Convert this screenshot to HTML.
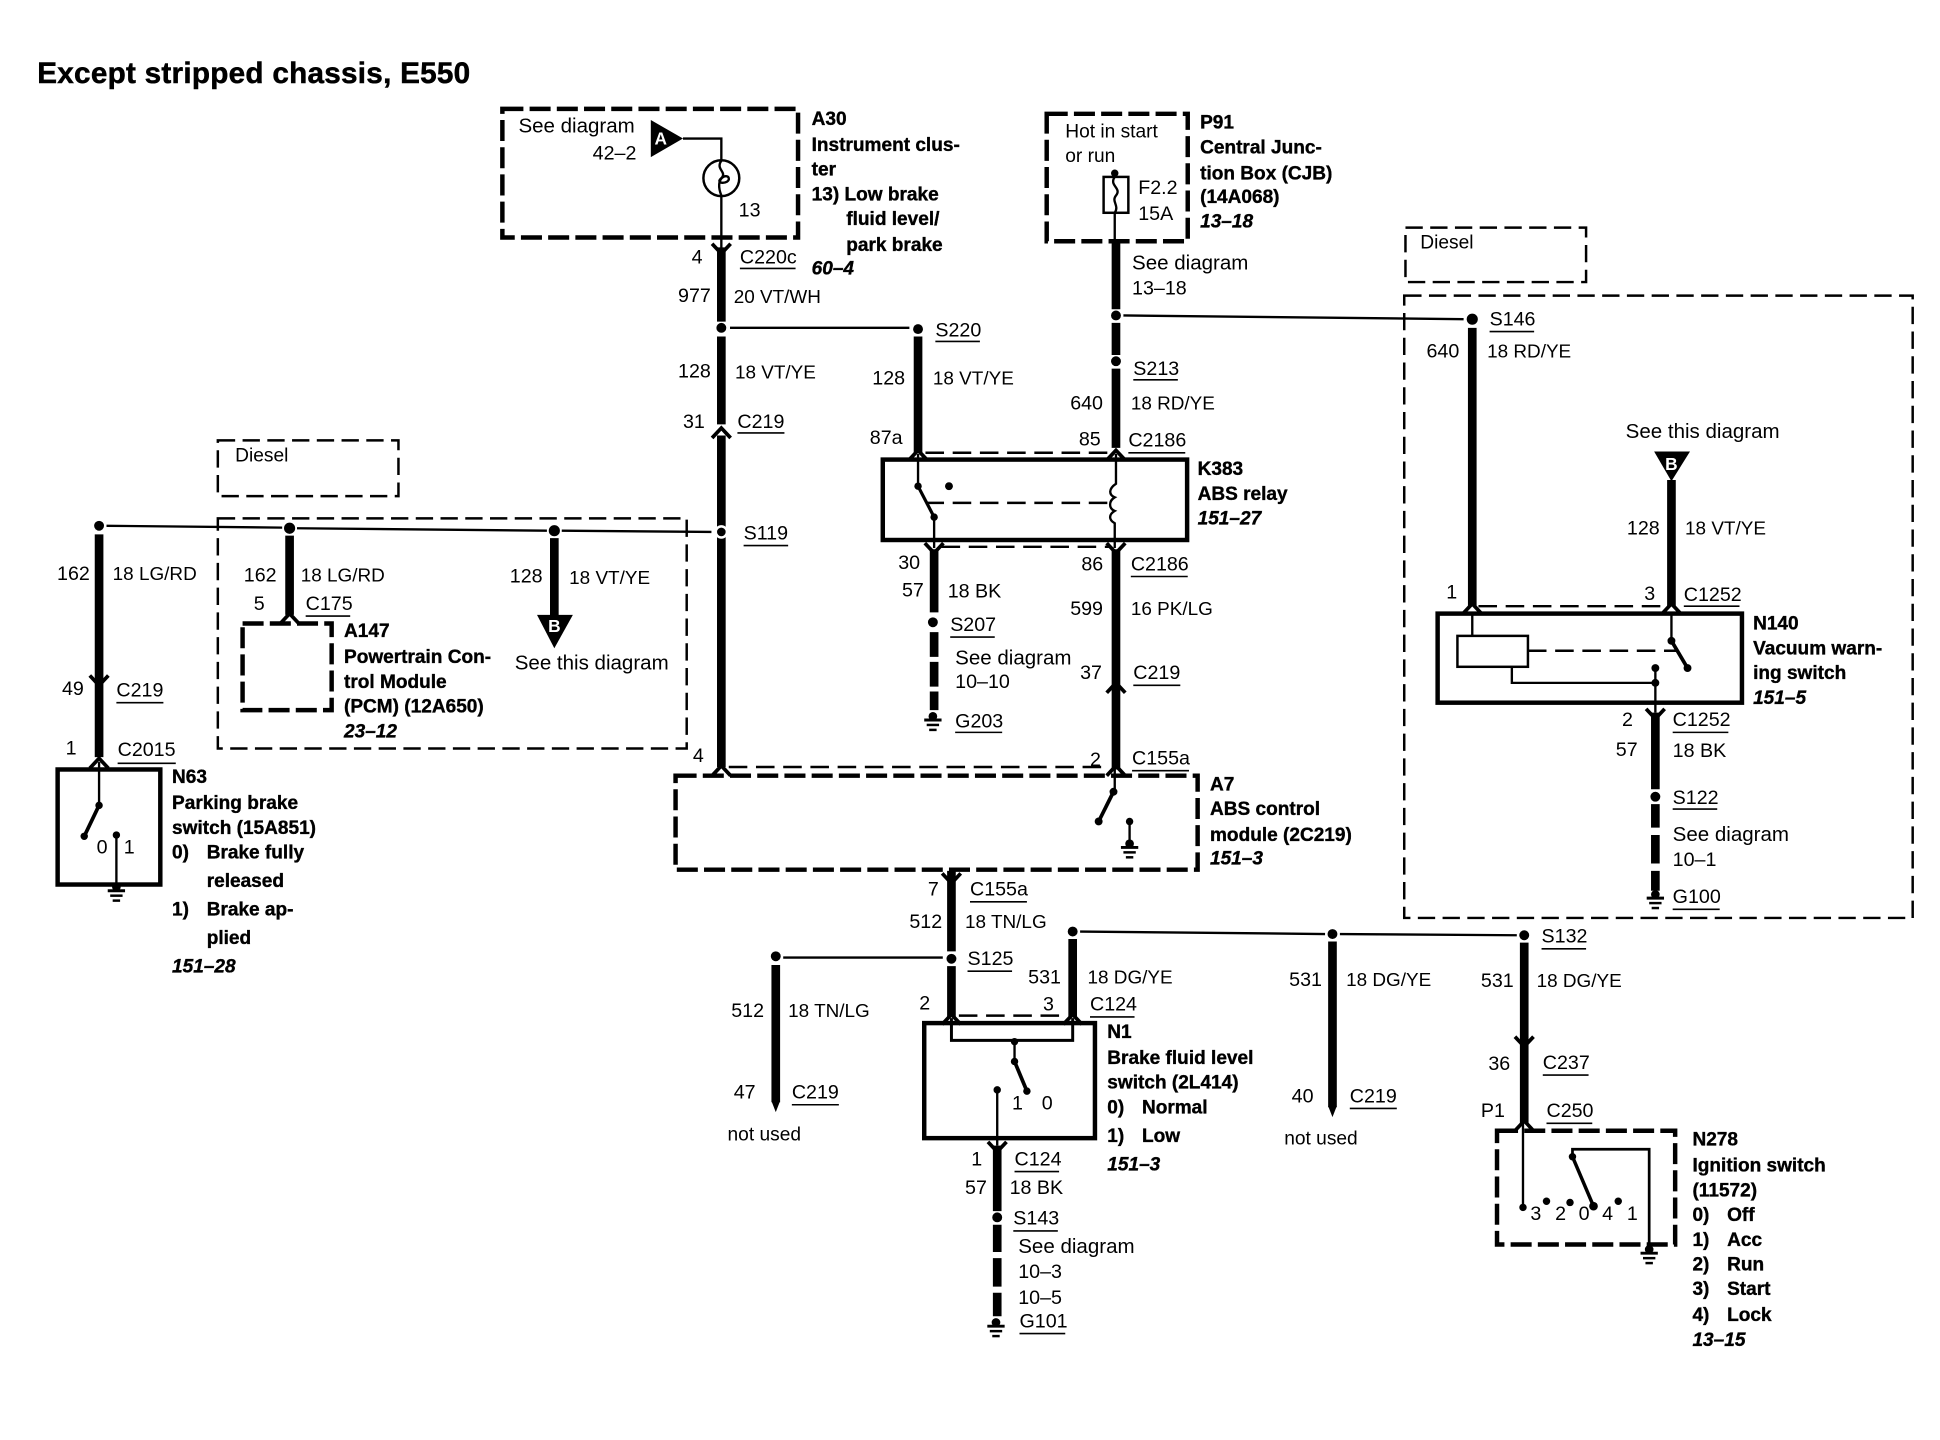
<!DOCTYPE html>
<html><head><meta charset="utf-8"><title>Except stripped chassis, E550</title>
<style>
html,body{margin:0;padding:0;background:#fff}
svg{display:block}
text{font-family:"Liberation Sans",sans-serif;font-size:15.9px;fill:#000}
text.g{font-size:15.3px}
text.s{font-size:16.6px}
.b{font-weight:700;font-size:15.4px;stroke:#000;stroke-width:.3}
.i{font-weight:700;font-style:italic;font-size:15.4px;stroke:#000;stroke-width:.3}
.w{fill:#fff;font-weight:700;font-size:14px;text-anchor:middle}
.thick{stroke:#000;stroke-width:7;fill:none}
.thin{stroke:#000;stroke-width:1.9;fill:none}
.box{stroke:#000;stroke-width:3.6;fill:none}
.dh{stroke:#000;stroke-width:3.6;fill:none;stroke-dasharray:17 5}
.dl{stroke:#000;stroke-width:2;fill:none;stroke-dasharray:14 6}
.ds{stroke:#000;stroke-width:2;fill:none;stroke-dasharray:15 7}
.u{stroke:#000;stroke-width:1.3}
</style></head><body>
<svg width="1940" height="1440" viewBox="0 0 1568 1164" xmlns="http://www.w3.org/2000/svg">
<defs>
<path id="cd" d="M-7.500 -5L0 3L7.500 -5" fill="none" stroke="#000" stroke-width="3"/>
<path id="cu" d="M-7.500 5L0 -3L7.500 5" fill="none" stroke="#000" stroke-width="3"/>
<g id="gnd"><circle cx="0" cy="0" r="3.500"/><path d="M-7 3H7" stroke="#000" stroke-width="2.400"/><path d="M-5 7H5" stroke="#000" stroke-width="2"/><path d="M-3 11H3" stroke="#000" stroke-width="2"/></g>
</defs>
<rect width="1568" height="1164" fill="#fff"/>

<text x="30" y="67" style="font-size:24px;font-weight:700;stroke:#000;stroke-width:.4" textLength="350">Except stripped chassis, E550</text>

<!-- A30 -->
<rect x="406" y="88" width="239" height="104" class="dh"/>
<text x="419" y="107" class="s">See diagram</text><text x="479" y="129">42–2</text>
<polygon points="526,97 526,127 552,112"/><text x="534" y="117" class="w">A</text>
<path d="M552 112H583V203" class="thin"/>
<circle cx="583" cy="144" r="14.500" fill="#fff" stroke="#000" stroke-width="2"/>
<path d="M583 130C578 137 588 139 583 144C577 149 590 149 589 144C588 140 577 143 583 158" class="thin"/>
<text x="597" y="175">13</text>
<text x="656" y="101" class="b">A30</text><text x="656" y="122" class="b">Instrument clus-</text><text x="656" y="142" class="b">ter</text><text x="656" y="162" class="b">13) Low brake</text><text x="684" y="182" class="b">fluid level/</text><text x="684" y="203" class="b">park brake</text><text x="656" y="222" class="i">60–4</text>

<use href="#cd" x="583" y="202"/>
<path d="M583 200V260M583 272V343M583 352V620" class="thick"/>
<text x="559" y="213">4</text><text x="598" y="213">C220c</text><path d="M598 217H643" class="u"/>
<text x="548" y="244">977</text><text x="593" y="245" class="g">20 VT/WH</text>
<circle cx="583" cy="265" r="4"/><path d="M590 265H735" class="thin"/><circle cx="742" cy="266" r="4"/>
<text x="756" y="272">S220</text><path d="M756 276H792" class="u"/>
<text x="548" y="305">128</text><text x="594" y="306" class="g">18 VT/YE</text>
<text x="552" y="346">31</text><text x="596" y="346">C219</text><path d="M596 350H634" class="u"/>
<use href="#cu" x="583" y="349"/>
<circle cx="583" cy="430" r="4.500" fill="#000" stroke="#fff" stroke-width="2"/>
<text x="601" y="436">S119</text><path d="M601 441H637" class="u"/>
<text x="560" y="616">4</text>

<!-- P91 -->
<rect x="846" y="92" width="114" height="103" class="dh"/>
<text x="861" y="111" style="font-size:15.500px">Hot in start</text><text x="861" y="131" style="font-size:15.500px">or run</text>
<circle cx="901" cy="140" r="3"/><path d="M901 140V195" class="thin"/>
<rect x="892" y="143" width="20" height="29" fill="#fff" stroke="#000" stroke-width="2"/>
<path d="M901 143C896 150 907 152 902 158C898 163 905 166 901 172" class="thin"/>
<text x="920" y="157">F2.2</text><text x="920" y="178">15A</text>
<text x="970" y="104" class="b">P91</text><text x="970" y="124" class="b">Central Junc-</text><text x="970" y="145" class="b">tion Box (CJB)</text><text x="970" y="164" class="b">(14A068)</text><text x="970" y="184" class="i">13–18</text>
<path d="M902 195V250M902 261V287M902 298V362" class="thick"/>
<text x="915" y="218" class="s">See diagram</text><text x="915" y="238">13–18</text>
<circle cx="902" cy="255" r="4"/><circle cx="902" cy="292" r="4"/>
<text x="916" y="303">S213</text><path d="M916 307H952" class="u"/>
<text x="865" y="331">640</text><text x="914" y="331" class="g">18 RD/YE</text>
<path d="M908 255L1183 258" class="thin"/>

<!-- Right diesel -->
<rect x="1136" y="184" width="146" height="44" class="dl"/><text x="1148" y="201" style="font-size:15.500px">Diesel</text>
<rect x="1135" y="239" width="411" height="503" class="dl"/>
<circle cx="1190" cy="258" r="4.500"/><text x="1204" y="263">S146</text><path d="M1204 268H1240" class="u"/>
<path d="M1190 265V490" class="thick"/>
<text x="1153" y="289">640</text><text x="1202" y="289" class="g">18 RD/YE</text>
<text x="1314" y="354" class="s">See this diagram</text>
<polygon points="1337,365 1366,365 1351,389"/><text x="1351" y="380" class="w">B</text>
<path d="M1351 388V490" class="thick"/>
<text x="1315" y="432">128</text><text x="1362" y="432" class="g">18 VT/YE</text>
<text x="1169" y="484">1</text><text x="1329" y="485">3</text><text x="1361" y="486">C1252</text><path d="M1361 490H1406" class="u"/>
<use href="#cu" x="1190" y="491"/><use href="#cu" x="1351" y="491"/>
<path d="M1195 490H1345" class="ds"/>
<rect x="1162" y="496" width="246" height="72" class="box"/>
<path d="M1190 496V514" class="thin"/>
<rect x="1178" y="514" width="57" height="25" fill="#fff" stroke="#000" stroke-width="2"/>
<path d="M1235 526H1356" class="ds"/>
<path d="M1351 496V518" class="thin"/><circle cx="1351" cy="518" r="3.200"/>
<path d="M1351 518L1364 540" stroke="#000" stroke-width="3" fill="none"/><circle cx="1364" cy="540" r="3.200"/>
<path d="M1222 539V552H1338" class="thin"/><circle cx="1338" cy="552" r="3.200"/><circle cx="1338" cy="540" r="3.200"/>
<path d="M1338 540V576" class="thin"/>
<text x="1417" y="509" class="b">N140</text><text x="1417" y="529" class="b">Vacuum warn-</text><text x="1417" y="549" class="b">ing switch</text><text x="1417" y="569" class="i">151–5</text>
<use href="#cd" x="1338" y="578"/>
<path d="M1338 576V638M1338 650V669M1338 675V698M1338 704V720" class="thick"/>
<text x="1311" y="587">2</text><text x="1352" y="587">C1252</text><path d="M1352 592H1397" class="u"/>
<text x="1306" y="611">57</text><text x="1352" y="612">18 BK</text>
<circle cx="1338" cy="644" r="4"/><text x="1352" y="650">S122</text><path d="M1352 654H1388" class="u"/>
<text x="1352" y="680" class="s">See diagram</text><text x="1352" y="700">10–1</text>
<use href="#gnd" x="1338" y="723"/><text x="1352" y="730">G100</text><path d="M1352 735H1390" class="u"/>

<!-- K383 -->
<path d="M742 272V366" class="thick"/>
<text x="705" y="311">128</text><text x="754" y="311" class="g">18 VT/YE</text><text x="703" y="359">87a</text><text x="872" y="360">85</text>
<text x="912" y="361">C2186</text><path d="M912 366H958" class="u"/>
<use href="#cu" x="742" y="367"/><use href="#cu" x="902" y="367"/>
<path d="M748 366H896" class="ds"/>
<rect x="713.500" y="371.500" width="246" height="65" class="box"/>
<path d="M742 367V393" class="thin"/><circle cx="742" cy="393" r="3"/>
<path d="M742 393L755 418" stroke="#000" stroke-width="2.600" fill="none"/><circle cx="755" cy="418" r="3"/>
<path d="M755 418V443" class="thin"/><circle cx="767" cy="393" r="3.200"/>
<path d="M748 406.500H897" class="ds"/>
<path d="M902 367V391C896 395 896 400 901 402C896 405 896 411 901 413C896 416 896 420 901 423V443" class="thin"/>
<text x="968" y="384" class="b">K383</text><text x="968" y="404" class="b">ABS relay</text><text x="968" y="424" class="i">151–27</text>
<use href="#cd" x="755" y="444"/><use href="#cd" x="902" y="444"/>
<path d="M761 442H896" class="ds"/>
<path d="M755 444V495M755 511V531M755 535V555M755 559V574" class="thick"/>
<circle cx="754" cy="503" r="4"/>
<text x="726" y="460">30</text><text x="729" y="482">57</text><text x="766" y="483">18 BK</text>
<text x="768" y="510">S207</text><path d="M768 515H804" class="u"/>
<text x="772" y="537" class="s">See diagram</text><text x="772" y="556">10–10</text>
<use href="#gnd" x="754" y="579"/><text x="772" y="588">G203</text><path d="M772 592H810" class="u"/>
<path d="M902 444V622" class="thick"/>
<text x="874" y="461">86</text><text x="914" y="461">C2186</text><path d="M914 466H960" class="u"/>
<text x="865" y="497">599</text><text x="914" y="497" class="g">16 PK/LG</text>
<text x="873" y="549">37</text><text x="916" y="549">C219</text><path d="M916 554H954" class="u"/>
<use href="#cu" x="902" y="555"/>
<text x="881" y="619">2</text><text x="915" y="618">C155a</text><path d="M915 623H961" class="u"/>
<use href="#cu" x="902" y="622"/><use href="#cu" x="583" y="622"/>
<path d="M589 620H896" class="ds"/>

<!-- A7 -->
<rect x="546" y="627" width="422" height="76" class="dh"/>
<path d="M901 622V640" class="thin"/><circle cx="900" cy="640" r="3.200"/>
<path d="M900 640L888 664" stroke="#000" stroke-width="3" fill="none"/><circle cx="888" cy="664" r="3.200"/>
<circle cx="913" cy="664" r="3"/><path d="M913 664V682" class="thin"/><use href="#gnd" x="913" y="682"/>
<text x="978" y="639" class="b">A7</text><text x="978" y="659" class="b">ABS control</text><text x="978" y="680" class="b">module (2C219)</text><text x="978" y="699" class="i">151–3</text>

<!-- Left Diesel -->
<rect x="176" y="356" width="146" height="45" class="dl"/><text x="190" y="373" style="font-size:15.500px">Diesel</text>
<rect x="176" y="419" width="379" height="186" class="dl"/>
<path d="M86 425L228 426.500M240 427L442 429M454 429L575 430" class="thin"/>
<circle cx="80" cy="425" r="4"/><circle cx="234" cy="427" r="4.500"/><circle cx="448" cy="429" r="4.500"/>
<path d="M80 432V612M234 433V497M448 435V498" class="thick"/>
<text x="46" y="469">162</text><text x="91" y="469" class="g">18 LG/RD</text>
<text x="197" y="470">162</text><text x="243" y="470" class="g">18 LG/RD</text>
<text x="412" y="471">128</text><text x="460" y="472" class="g">18 VT/YE</text>
<text x="205" y="493">5</text><text x="247" y="493">C175</text><path d="M247 498H283" class="u"/>
<use href="#cu" x="234" y="499"/>
<rect x="196" y="504" width="72" height="70" class="dh"/>
<text x="278" y="515" class="b">A147</text><text x="278" y="536" class="b">Powertrain Con-</text><text x="278" y="556" class="b">trol Module</text><text x="278" y="576" class="b">(PCM) (12A650)</text><text x="278" y="596" class="i">23–12</text>
<polygon points="434,497 463,497 448,524"/><text x="448" y="511" class="w">B</text>
<text x="416" y="541" class="s">See this diagram</text>
<use href="#cd" x="80" y="551"/>
<text x="50" y="562">49</text><text x="94" y="563">C219</text><path d="M94 568H132" class="u"/>
<text x="53" y="610">1</text><text x="95" y="611">C2015</text><path d="M95 617H142" class="u"/>
<use href="#cu" x="80" y="616"/>

<!-- N63 -->
<rect x="46.500" y="622" width="83" height="93" class="box"/>
<path d="M80 616V651" class="thin"/><circle cx="80" cy="651" r="3"/>
<path d="M80 651L68 676" stroke="#000" stroke-width="3" fill="none"/><circle cx="68" cy="676" r="3"/>
<circle cx="94" cy="675" r="3"/><path d="M94 675V716" class="thin"/><use href="#gnd" x="94" y="717"/>
<text x="78" y="690">0</text><text x="100" y="690">1</text>
<text x="139" y="633" class="b">N63</text><text x="139" y="654" class="b">Parking brake</text><text x="139" y="674" class="b">switch (15A851)</text>
<text x="139" y="694" class="b">0)</text><text x="167" y="694" class="b">Brake fully</text><text x="167" y="717" class="b">released</text>
<text x="139" y="740" class="b">1)</text><text x="167" y="740" class="b">Brake ap-</text><text x="167" y="763" class="b">plied</text><text x="139" y="786" class="i">151–28</text>

<!-- N1 lower -->
<use href="#cd" x="769" y="711"/>
<path d="M769 704V769M769 781V822" class="thick"/>
<text x="750" y="724">7</text><text x="784" y="724">C155a</text><path d="M784 729H830" class="u"/>
<text x="735" y="750">512</text><text x="780" y="750" class="g">18 TN/LG</text>
<circle cx="769" cy="775" r="4"/><text x="782" y="780">S125</text><path d="M782 785H818" class="u"/>
<path d="M633 774H762" class="thin"/><circle cx="627" cy="773" r="4"/>
<path d="M627 780V891" class="thick"/><polygon points="623.500,890 630.500,890 627,899"/>
<text x="591" y="822">512</text><text x="637" y="822" class="g">18 TN/LG</text>
<text x="593" y="888">47</text><text x="640" y="888">C219</text><path d="M640 893H678" class="u"/>
<text x="588" y="922" style="font-size:15.500px">not used</text>
<circle cx="867" cy="753" r="4"/><path d="M873 753L1071 755M1083 755L1226 756" class="thin"/>
<circle cx="1077" cy="755" r="4"/><circle cx="1232" cy="756" r="4"/>
<text x="1246" y="762">S132</text><path d="M1246 767H1282" class="u"/>
<path d="M867 759V822" class="thick"/>
<text x="831" y="795">531</text><text x="879" y="795" class="g">18 DG/YE</text>
<text x="743" y="816">2</text><text x="843" y="817">3</text><text x="881" y="817">C124</text><path d="M881 822H917" class="u"/>
<use href="#cu" x="769" y="823"/><use href="#cu" x="867" y="823"/>
<path d="M775 821H861" class="ds"/>
<rect x="747" y="827" width="138" height="93" class="box"/>
<path d="M769 823V841H867V823" stroke="#000" stroke-width="2.400" fill="none"/>
<circle cx="820" cy="842" r="3"/><path d="M820 842V858" class="thin"/><circle cx="820" cy="858" r="3"/>
<path d="M820 858L830 882" stroke="#000" stroke-width="3" fill="none"/><circle cx="830" cy="882" r="3"/>
<circle cx="806" cy="881" r="3"/><path d="M806 881V926" class="thin"/>
<text x="818" y="897">1</text><text x="842" y="897">0</text>
<text x="895" y="839" class="b">N1</text><text x="895" y="860" class="b">Brake fluid level</text><text x="895" y="880" class="b">switch (2L414)</text>
<text x="895" y="900" class="b">0)</text><text x="923" y="900" class="b">Normal</text><text x="895" y="923" class="b">1)</text><text x="923" y="923" class="b">Low</text><text x="895" y="946" class="i">151–3</text>
<use href="#cd" x="806" y="928"/>
<path d="M806 926V979M806 990V1012M806 1017V1040M806 1045V1064" class="thick"/>
<text x="785" y="942">1</text><text x="820" y="942">C124</text><path d="M820 947H856" class="u"/>
<text x="780" y="965">57</text><text x="816" y="965">18 BK</text>
<circle cx="806" cy="984" r="4"/><text x="819" y="990">S143</text><path d="M819 995H855" class="u"/>
<text x="823" y="1013" class="s">See diagram</text><text x="823" y="1033">10–3</text><text x="823" y="1054">10–5</text>
<use href="#gnd" x="805" y="1069"/><text x="824" y="1073">G101</text><path d="M824 1078H861" class="u"/>

<!-- not used 2 -->
<path d="M1077 761V895" class="thick"/><polygon points="1073.500,894 1080.500,894 1077,903"/>
<text x="1042" y="797">531</text><text x="1088" y="797" class="g">18 DG/YE</text>
<text x="1044" y="891">40</text><text x="1091" y="891">C219</text><path d="M1091 896H1129" class="u"/>
<text x="1038" y="925" style="font-size:15.500px">not used</text>

<!-- N278 -->
<path d="M1232 762V908" class="thick"/>
<text x="1197" y="798">531</text><text x="1242" y="798" class="g">18 DG/YE</text>
<use href="#cd" x="1232" y="843"/>
<text x="1203" y="865">36</text><text x="1247" y="864">C237</text><path d="M1247 869H1284" class="u"/>
<text x="1197" y="903">P1</text><text x="1250" y="903">C250</text><path d="M1250 908H1287" class="u"/>
<use href="#cu" x="1232" y="909"/>
<rect x="1210" y="914" width="144" height="92" class="dh"/>
<path d="M1231 908V975" class="thin"/><circle cx="1231" cy="976" r="3"/>
<circle cx="1250" cy="971" r="3"/><circle cx="1269" cy="972" r="3"/><circle cx="1288" cy="975" r="3.500"/><circle cx="1308" cy="971" r="3"/>
<path d="M1271 935V929H1333V1008" stroke="#000" stroke-width="2.200" fill="none"/><circle cx="1271" cy="935" r="3"/>
<path d="M1271 935L1288 975" stroke="#000" stroke-width="2.800" fill="none"/>
<use href="#gnd" x="1333" y="1010"/>
<text x="1237" y="986">3</text><text x="1257" y="986">2</text><text x="1276" y="986">0</text><text x="1295" y="986">4</text><text x="1315" y="986">1</text>
<text x="1368" y="926" class="b">N278</text><text x="1368" y="947" class="b">Ignition switch</text><text x="1368" y="967" class="b">(11572)</text>
<text x="1368" y="987" class="b">0)</text><text x="1396" y="987" class="b">Off</text>
<text x="1368" y="1007" class="b">1)</text><text x="1396" y="1007" class="b">Acc</text>
<text x="1368" y="1027" class="b">2)</text><text x="1396" y="1027" class="b">Run</text>
<text x="1368" y="1047" class="b">3)</text><text x="1396" y="1047" class="b">Start</text>
<text x="1368" y="1068" class="b">4)</text><text x="1396" y="1068" class="b">Lock</text>
<text x="1368" y="1088" class="i">13–15</text>
</svg>
</body></html>
